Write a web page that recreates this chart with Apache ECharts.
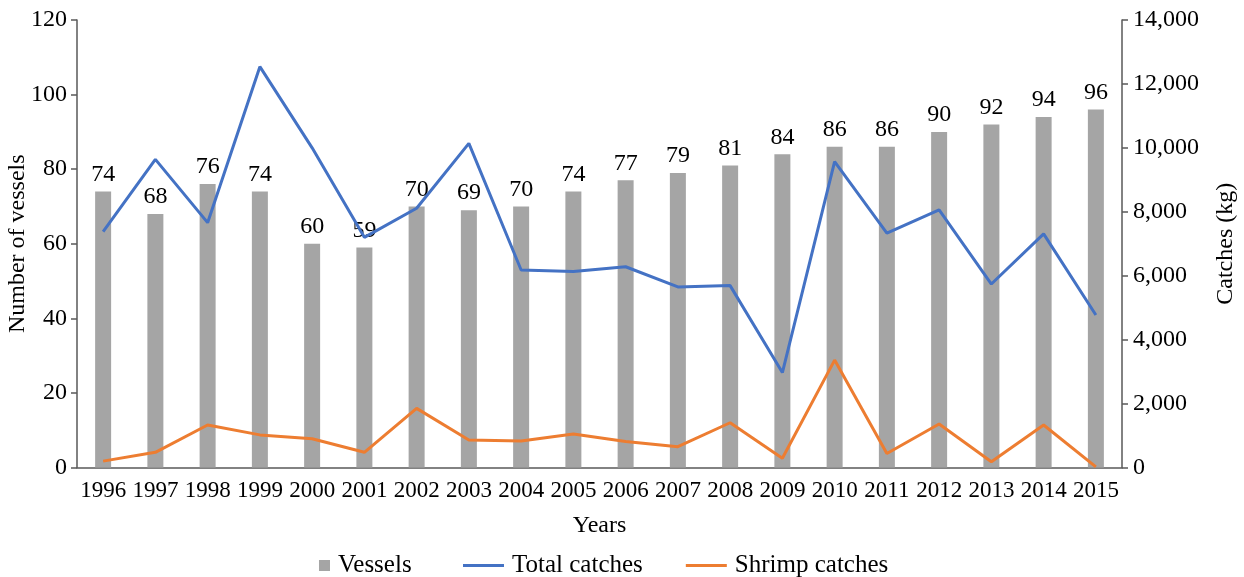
<!DOCTYPE html>
<html>
<head>
<meta charset="utf-8">
<script src="https://cdn.jsdelivr.net/npm/echarts@6/dist/echarts.min.js"></script>
<style>html,body{margin:0;padding:0;background:#fff;}#c{width:1244px;height:577px;}</style>
</head>
<body>
<div id="c"></div>
<script>
var years = ['1996','1997','1998','1999','2000','2001','2002','2003','2004','2005','2006','2007','2008','2009','2010','2011','2012','2013','2014','2015'];
var vessels = [74,68,76,74,60,59,70,69,70,74,77,79,81,84,86,86,90,92,94,96];
var totalCatches = [7380,9640,7660,12540,10000,7200,8110,10140,6180,6130,6280,5650,5690,2970,9570,7330,8060,5740,7310,4770];
var shrimpCatches = [200,475,1330,1020,900,475,1850,860,830,1050,810,650,1400,290,3360,440,1360,180,1330,20];
var leftTicks = [0,20,40,60,80,100,120];
var rightTicks = [0,2000,4000,6000,8000,10000,12000,14000];

var FONT = '"Liberation Serif", "Times New Roman", serif';
var legendBase = {
  top: 548,
  itemWidth: 44,
  itemHeight: 12,
  itemGap: 43,
  textStyle: {fontFamily: FONT, fontSize: 25, color: '#000'}
};
var chart = echarts.init(document.getElementById('c'), null, {renderer:'canvas'});
chart.setOption({
  animation: false,
  textStyle: {fontFamily: FONT, color: '#000'},
  grid: {left: 77, right: 122, top: 20, bottom: 109.5, containLabel: false, outerBoundsMode: 'none'},
  legend: [
    Object.assign({}, legendBase, {
      left: 284,
      data: [{name: 'Vessels', icon: 'path://M0,5 L0.01,5 Z M30,0 L41,0 L41,11 L30,11 Z M44,5 L44.01,5 Z'}]
    }),
    Object.assign({}, legendBase, {
      left: 458,
      data: [
        {name: 'Total catches', icon: 'path://M0,0 L41,0 L41,3 L0,3 Z M44,1 L44.01,1 Z'},
        {name: 'Shrimp catches', icon: 'path://M0,0 L41,0 L41,3 L0,3 Z M44,1 L44.01,1 Z'}
      ]
    })
  ],
  xAxis: {
    type: 'category',
    data: years,
    name: 'Years',
    nameLocation: 'middle',
    nameGap: 46,
    nameTextStyle: {fontFamily: FONT, fontSize: 24, color: '#000'},
    axisLine: {lineStyle: {color: '#595959', width: 1.5}},
    axisTick: {show: false},
    axisLabel: {interval: 0, fontFamily: FONT, fontSize: 23, color: '#000', margin: 12}
  },
  yAxis: [
    {
      type: 'value', min: leftTicks[0], max: leftTicks[leftTicks.length-1], interval: 20,
      name: 'Number of vessels', nameLocation: 'middle', nameGap: 47, nameMoveOverlap: false,
      nameTextStyle: {fontFamily: FONT, fontSize: 24, color: '#000'},
      axisLine: {show: true, lineStyle: {color: '#595959', width: 1.5}},
      axisTick: {show: true, length: 6, lineStyle: {color: '#595959', width: 1.5}},
      axisLabel: {fontFamily: FONT, fontSize: 24, color: '#000', margin: 10},
      splitLine: {show: false}
    },
    {
      type: 'value', min: rightTicks[0], max: rightTicks[rightTicks.length-1], interval: 2000,
      name: 'Catches (kg)', nameLocation: 'middle', nameGap: 92,
      nameTextStyle: {fontFamily: FONT, fontSize: 24, color: '#000'},
      axisLine: {show: true, lineStyle: {color: '#595959', width: 1.5}},
      axisTick: {show: true, length: 6, lineStyle: {color: '#595959', width: 1.5}},
      axisLabel: {fontFamily: FONT, fontSize: 24, color: '#000', margin: 11,
        formatter: function(v){ return v.toLocaleString('en-US'); }},
      splitLine: {show: false}
    }
  ],
  series: [
    {
      name: 'Vessels', type: 'bar', data: vessels, yAxisIndex: 0,
      barWidth: 16,
      itemStyle: {color: '#A5A5A5'},
      label: {show: true, position: 'top', distance: 5, fontFamily: FONT, fontSize: 24, color: '#000'}
    },
    {
      name: 'Total catches', type: 'line', data: totalCatches, yAxisIndex: 1,
      symbol: 'none', lineStyle: {color: '#4472C4', width: 3}, itemStyle: {color: '#4472C4'}
    },
    {
      name: 'Shrimp catches', type: 'line', data: shrimpCatches, yAxisIndex: 1,
      symbol: 'none', lineStyle: {color: '#ED7D31', width: 3}, itemStyle: {color: '#ED7D31'}
    }
  ]
});
</script>
</body>
</html>
